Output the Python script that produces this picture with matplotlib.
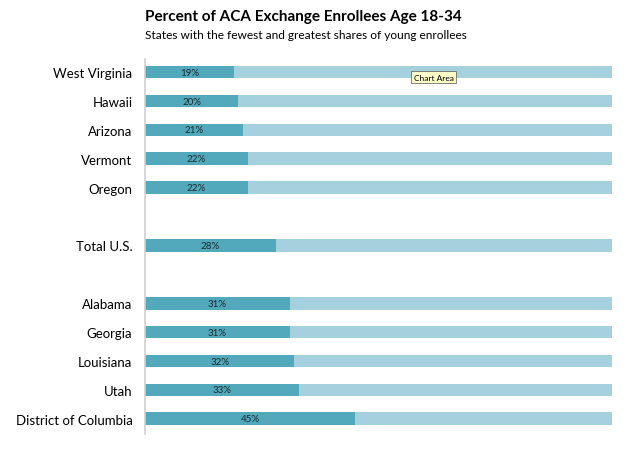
import matplotlib.pyplot as plt

states = ["West Virginia", "Hawaii", "Arizona", "Vermont", "Oregon",
          "Total U.S.",
          "Alabama", "Georgia", "Louisiana", "Utah", "District of Columbia"]
shares = [19, 20, 21, 22, 22, 28, 31, 31, 32, 33, 45]
rows = [0, 1, 2, 3, 4, 6, 8, 9, 10, 11, 12]

dark = "#52a9bb"
light = "#a5d0de"

plt.rcParams['font.family'] = ['Lato', 'DejaVu Sans']

fig = plt.figure(figsize=(6.3, 4.52), dpi=100, facecolor='white')
ax = fig.add_axes([0.230, 0.038, 0.742, 0.829])

rest = [100 - s for s in shares]
ax.barh(rows, shares, height=0.44, color=dark, edgecolor='none')
ax.barh(rows, rest, left=shares, height=0.44, color=light, edgecolor='none')

for r, s in zip(rows, shares):
    ax.text(s / 2, r, f"{s}%", ha='center', va='center', fontsize=7, color='#1a2a30')

ax.set_xlim(0, 100)
ax.set_ylim(12.52, -0.45)
ax.set_yticks(rows)
ax.set_yticklabels(states, fontsize=9.5)
ax.tick_params(axis='y', length=0, pad=9)
ax.set_xticks([])
for side in ['top', 'right', 'bottom']:
    ax.spines[side].set_visible(False)
ax.spines['left'].set_color('#d0d0d0')
ax.spines['left'].set_linewidth(1.2)

fig.text(0.230, 0.962, "Percent of ACA Exchange Enrollees Age 18-34", fontsize=11,
         fontweight='bold', ha='left', va='center')
fig.text(0.230, 0.921, "States with the fewest and greatest shares of young enrollees",
         fontsize=8.6, ha='left', va='center')

# tooltip shown in the screenshot
fig.text(0.657, 0.827, "Chart Area", fontsize=6, ha='left', va='center',
         bbox=dict(boxstyle='square,pad=0.3', facecolor='#fdfdc8', edgecolor='#555555', linewidth=0.5))

fig.savefig('out.png', dpi=100, facecolor='white')
